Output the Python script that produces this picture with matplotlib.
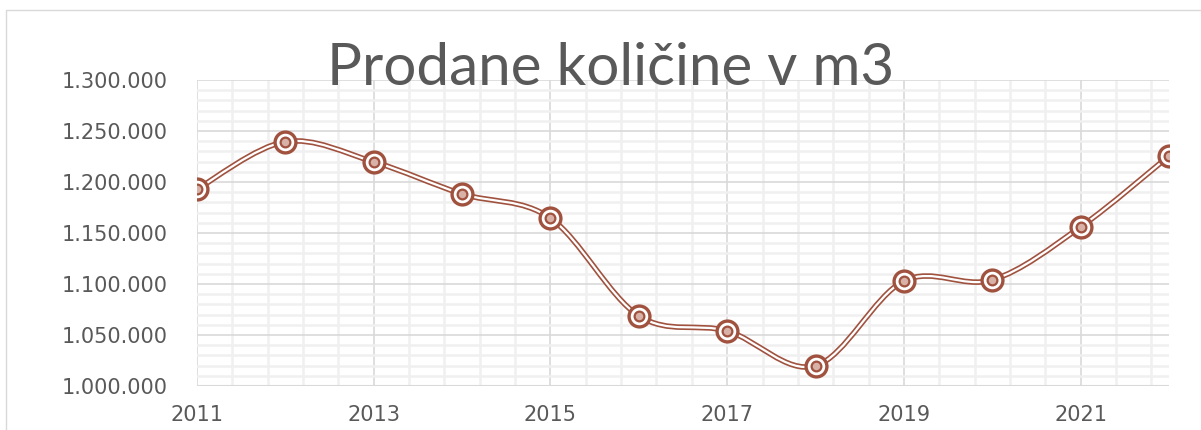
import matplotlib.pyplot as plt
import numpy as np
from matplotlib.path import Path
from matplotlib.patches import PathPatch, Rectangle
from matplotlib.ticker import MultipleLocator, FuncFormatter

years = [2011, 2012, 2013, 2014, 2015, 2016, 2017, 2018, 2019, 2020, 2021, 2022]
quantities = [1193000, 1239500, 1219800, 1188300, 1164500, 1068800, 1054000, 1019800,
              1103000, 1104000, 1156000, 1225500]
title = "Prodane količine v m3"

line_col = "#a0523f"
text_col = "#595959"

fig = plt.figure(figsize=(12.01, 4.30), dpi=100)
ax = fig.add_axes([197 / 1201, 1 - 386 / 430, (1169 - 197) / 1201, (386 - 80) / 430])

# outer chart frame (only left and top visible)
fig.patches.append(Rectangle((6 / 1201, -0.1), 1.2, (430 - 10) / 430 + 0.1,
                             transform=fig.transFigure, fill=False, ec="#d9d9d9", lw=1))

# smoothed line, built as bezier segments like excel does
x = np.array(years, dtype=float)
y = np.array(quantities, dtype=float)
px = np.concatenate([[x[0]], x, [x[-1]]])
py = np.concatenate([[y[0]], y, [y[-1]]])
verts = [(x[0], y[0])]
codes = [Path.MOVETO]
for i in range(1, len(px) - 2):
    c1 = (px[i] + (px[i + 1] - px[i - 1]) / 6, py[i] + (py[i + 1] - py[i - 1]) / 6)
    c2 = (px[i + 1] - (px[i + 2] - px[i]) / 6, py[i + 1] - (py[i + 2] - py[i]) / 6)
    verts += [c1, c2, (px[i + 1], py[i + 1])]
    codes += [Path.CURVE4] * 3
path = Path(verts, codes)
ax.add_patch(PathPatch(path, fc="none", ec=line_col, lw=4.0, zorder=3, capstyle="round"))
ax.add_patch(PathPatch(path, fc="none", ec="white", lw=1.6, zorder=4, capstyle="round"))

ax.plot(years, quantities, ls="none", marker="o", ms=15, mfc="white", mec=line_col, mew=2.4, zorder=5)
ax.plot(years, quantities, ls="none", marker="o", ms=7, mfc="#d8b2a6", mec=line_col, mew=1.6, zorder=6)

ax.set_xlim(2011, 2022)
ax.set_ylim(1000000, 1300000)
ax.set_xticks(years[::2])
ax.set_xticks(np.arange(2011, 2022.01, 0.4), minor=True)
ax.yaxis.set_major_locator(MultipleLocator(50000))
ax.yaxis.set_minor_locator(MultipleLocator(10000))
ax.yaxis.set_major_formatter(FuncFormatter(lambda v, p: f"{int(v):,}".replace(",", ".")))

ax.grid(True, which="major", color="#d9d9d9", lw=1.2)
ax.grid(True, which="minor", color="#f0f0f0", lw=1.8)
ax.set_axisbelow(True)
for s in ax.spines.values():
    s.set_visible(False)
ax.tick_params(which="both", length=0, colors=text_col, labelsize=15)
ax.tick_params(axis="y", pad=21)
ax.tick_params(axis="x", pad=14)
ax.axhline(1000000, color="#d9d9d9", lw=1.5, zorder=2)

fig.text(0.508, 1 - 85 / 430, title, ha="center", va="baseline", fontsize=42,
         color=text_col, family=["Lato", "DejaVu Sans"])

fig.savefig("out.png", dpi=100)
